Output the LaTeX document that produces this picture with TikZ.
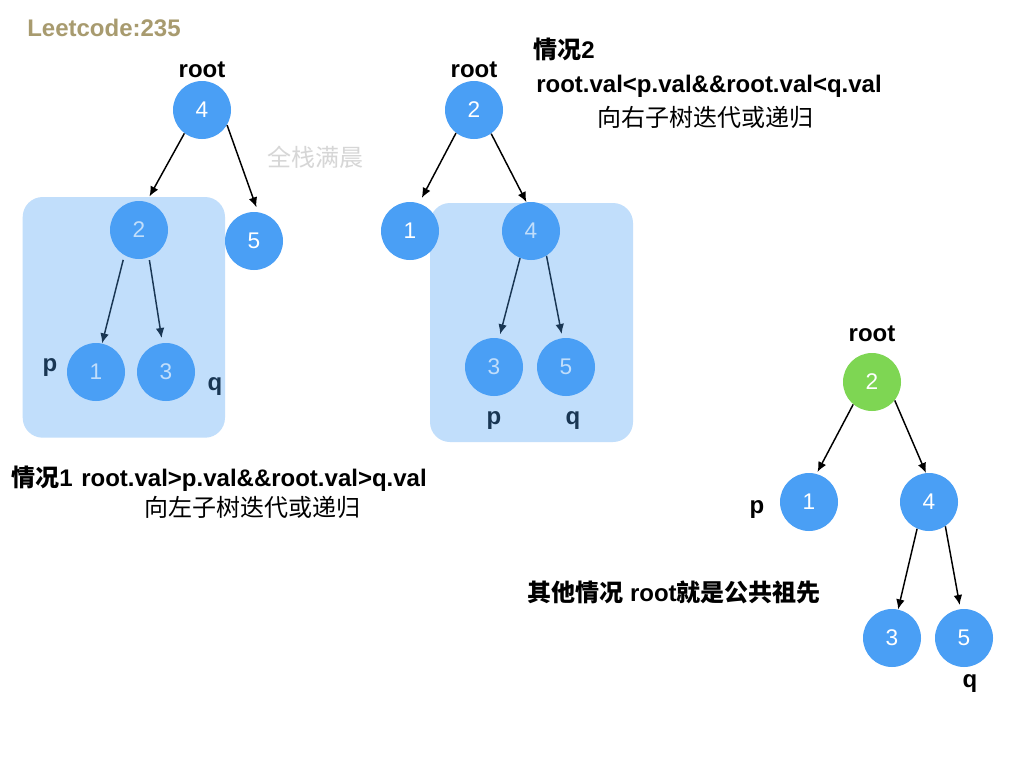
\documentclass[tikz,border=0pt]{standalone}
\usepackage{fontspec}
\setmainfont{Liberation Sans}
\newfontfamily\cjk{Noto Sans CJK SC}
\usetikzlibrary{arrows.meta}
\definecolor{nodeblue}{HTML}{4A9FF5}
\definecolor{nodegreen}{HTML}{7ED653}
\definecolor{titlecol}{HTML}{A89B6F}
\tikzset{
  nd/.style={circle, fill=nodeblue, minimum size=43.5pt, inner sep=0pt, text=white, font=\fontsize{17}{20}\selectfont},
  lbl/.style={font=\fontsize{18}{21}\selectfont\bfseries, anchor=base, inner sep=0pt},
  cjkdesc/.style={font=\cjk\fontsize{18}{21}\selectfont, anchor=center, inner sep=0pt},
  arr/.style={-{Latex[length=7.5pt,width=6.5pt]}, line width=1.1pt, black},
  hlbox/.style={fill=nodeblue, opacity=0.34, rounded corners=15pt}
}
\begin{document}
\begin{tikzpicture}[x=0.75pt,y=-0.75pt]
\fill[white] (0,0) rectangle (1024,768);
\useasboundingbox (0,0) rectangle (1024,768);

% title and watermark
\node[lbl, anchor=base west, text=titlecol] (title) at (27,36) {Leetcode:235};
\node[cjkdesc, text=black!16] (wm) at (315,157) {全栈满晨};

% ---------- tree 1 ----------
\node[nd] (a4) at (202,110) {4};
\node[nd] (a2) at (139,230) {2};
\node[nd] (a5) at (254,241) {5};
\node[nd] (a1) at (96,372) {1};
\node[nd] (a3) at (166,372) {3};
\node[lbl] (ar) at (202,77.5) {root};
\node[lbl] (ap) at (50,371) {p};
\node[lbl] (aq) at (215,390) {q};
\draw[arr, shorten >=4.5pt] (a4.233) -- (a2.75);
\draw[arr, shorten >=3.75pt] (a4.329) -- (a5.82);
\draw[arr, shorten <=3.5pt] (a2.240) -- (a1.78);
\draw[arr, shorten <=2pt, shorten >=3.75pt] (a2.290) -- (a3.97);
\fill[hlbox] (22.7,197) rectangle (225,437.7);
\node[lbl, anchor=base west] (c1label) at (11,486) {{\cjk 情况}1};
\node[lbl] (c1cond) at (254,486) {root.val>p.val\&\&root.val>q.val};
\node[cjkdesc] (c1desc) at (252,507) {向左子树迭代或递归};

% ---------- tree 2 ----------
\node[nd] (b2) at (474,110) {2};
\node[nd] (b1) at (410,231) {1};
\node[nd] (b4) at (531,231) {4};
\node[nd] (b3) at (494,367) {3};
\node[nd] (b5) at (566,367) {5};
\node[lbl] (br) at (474,77.5) {root};
\node[lbl] (bp) at (494,424) {p};
\node[lbl] (bq) at (573,424) {q};
\draw[arr, shorten >=4.5pt] (b2.232) -- (b1.72);
\draw[arr] (b2.306) -- (b4.99);
\draw[arr, shorten >=3pt] (b4.248) -- (b3.80);
\draw[arr, shorten >=3pt] (b4.302) -- (b5.97);
\fill[hlbox] (430,203) rectangle (633,442);
\node[lbl, anchor=base west] (c2label) at (533,58) {{\cjk 情况}2};
\node[lbl] (c2cond) at (709,92.5) {root.val<p.val\&\&root.val<q.val};
\node[cjkdesc] (c2desc) at (705,117) {向右子树迭代或递归};

% ---------- tree 3 ----------
\node[nd, fill=nodegreen] (c2) at (872,382) {2};
\node[nd] (c1) at (809,502) {1};
\node[nd] (c4) at (929,502) {4};
\node[nd] (c3) at (892,638) {3};
\node[nd] (c5) at (964,638) {5};
\node[lbl] (cr) at (872,341.5) {root};
\node[lbl] (cp) at (757,513) {p};
\node[lbl] (cq) at (970,687) {q};
\draw[arr, shorten >=1.5pt] (c2.230) -- (c1.75);
\draw[arr] (c2.321) -- (c4.96);
\draw[arr] (c4.246) -- (c3.78);
\draw[arr, shorten >=3pt] (c4.304) -- (c5.97);
\node[lbl, anchor=center] (c3desc) at (674,592) {{\cjk 其他情况} root{\cjk 就是公共祖先}};
\end{tikzpicture}
\end{document}
